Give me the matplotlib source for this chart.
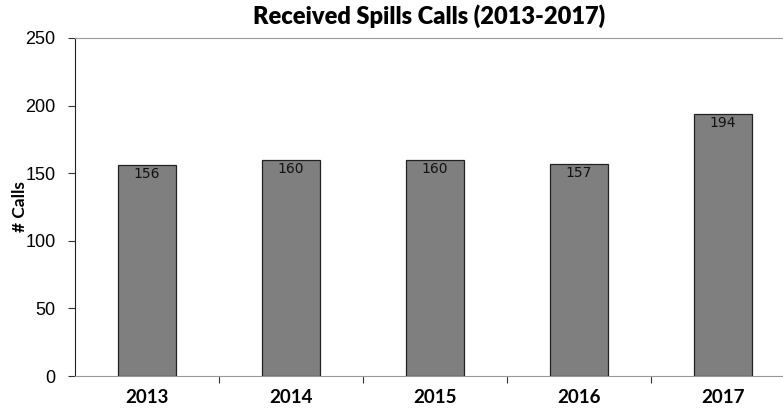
import matplotlib
matplotlib.use("Agg")
import matplotlib.pyplot as plt
from matplotlib.ticker import FixedLocator, NullFormatter

YEARS = ["2013", "2014", "2015", "2016", "2017"]
CALLS = [156, 160, 160, 157, 194]
Y_TICKS = [0, 50, 100, 150, 200, 250]

fig = plt.figure(figsize=(7.83, 4.08), dpi=100)
ax = fig.add_axes([0.0958, 0.0784, 0.9042, 0.8285])

x = list(range(len(YEARS)))
bars = ax.bar(x, CALLS, width=0.4, color="#7f7f7f", edgecolor="#222222", linewidth=0.9, zorder=2)

# value labels sit just inside the top of each bar
for xi, v in zip(x, CALLS):
    ax.text(xi, v - 1.5, str(v), ha="center", va="top", fontsize=10,
            family="DejaVu Sans", color="#111111", zorder=3)

ax.set_xlim(-0.5, 4.417)
ax.set_ylim(0, 250)
ax.set_yticks(Y_TICKS)
ax.set_yticklabels([str(t) for t in Y_TICKS], family="Liberation Sans", fontsize=13)

# ticks between categories, labels centered under the bars
ax.xaxis.set_major_locator(FixedLocator([0.5, 1.5, 2.5, 3.5]))
ax.xaxis.set_major_formatter(NullFormatter())
ax.xaxis.set_minor_locator(FixedLocator(x))
ax.set_xticklabels(YEARS, minor=True, family="Lato", fontweight="bold", fontsize=13.5)
ax.tick_params(axis="x", which="minor", length=0, pad=9)
ax.tick_params(axis="x", which="major", length=5, direction="out", color="#333333")
ax.tick_params(axis="y", length=5, direction="out", color="#333333", pad=9)

ax.spines["right"].set_visible(False)
ax.spines["top"].set_color("#9a9a9a")
ax.spines["bottom"].set_color("#9a9a9a")
ax.spines["left"].set_color("#222222")

ax.set_ylabel("# Calls", family="Lato", fontweight="bold", fontsize=12.5)
ax.yaxis.set_label_coords(-0.066, 0.5)
fig.suptitle("Received Spills Calls (2013-2017)", family="Lato", fontweight="heavy",
             fontsize=17, x=0.548, y=0.99)

fig.savefig("out.png", dpi=100)
